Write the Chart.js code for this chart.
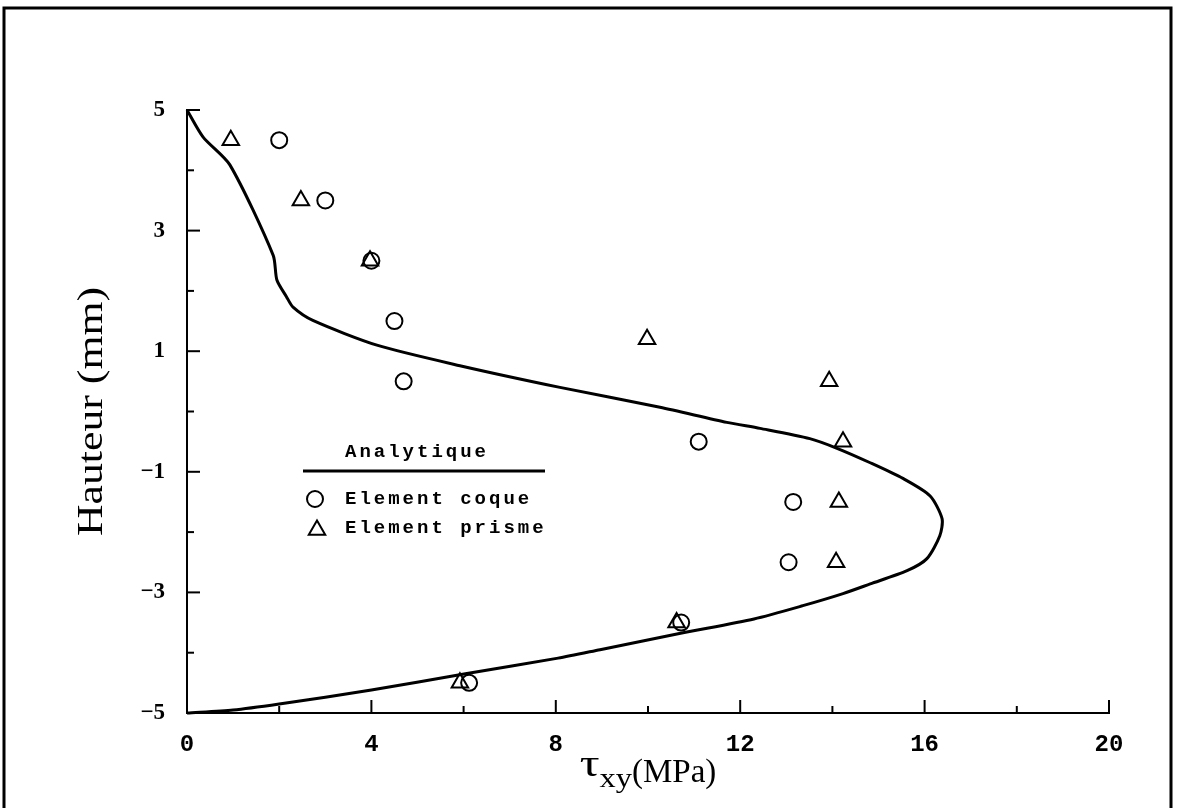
<!DOCTYPE html>
<html>
<head>
<meta charset="utf-8">
<title>Contrainte de cisaillement</title>
<script src="https://cdn.jsdelivr.net/npm/chart.js@4.4.0/dist/chart.umd.min.js"></script>
<style>
  html, body { margin: 0; padding: 0; background: #fff; }
  #wrap { width: 1177px; height: 808px; }
</style>
</head>
<body>
<div id="wrap"><canvas id="shearChart" width="1177" height="808"></canvas></div>
<script>
// analytic shear profile through the thickness
const analyticTau = [0, 0.35, 0.93, 1.87, 1.95, 2.16, 2.3, 2.73, 4.12, 5.92, 8.09, 10.26, 11.71, 12.43, 13.51, 14.1, 14.82, 15.53, 16.12, 16.38, 16.33, 16.05, 15.62, 14.82, 14.23, 13.36, 12.3, 10.76, 8.96, 8.05, 6.04, 4.0, 2.0, 1.0, 0];
const analyticHeight = [5, 4.55, 4.09, 2.59, 2.18, 1.9, 1.73, 1.51, 1.1, 0.76, 0.4, 0.07, -0.18, -0.28, -0.45, -0.61, -0.85, -1.11, -1.4, -1.78, -2.06, -2.44, -2.64, -2.86, -3.02, -3.22, -3.44, -3.67, -3.95, -4.09, -4.35, -4.62, -4.85, -4.95, -5];

// shell elements
const shellTau = [2, 3, 4, 4.5, 4.7, 11.1, 13.15, 13.05, 10.72, 6.12];
const shellHeight = [4.5, 3.5, 2.5, 1.5, 0.5, -0.5, -1.5, -2.5, -3.5, -4.5];

// prism elements
const prismTau = [0.95, 2.47, 3.97, 9.98, 13.93, 14.23, 14.14, 14.08, 10.62, 5.92];
const prismHeight = [4.5, 3.5, 2.5, 1.2, 0.5, -0.5, -1.5, -2.5, -3.5, -4.5];

const xTicks = [0, 4, 8, 12, 16, 20];
const yTicks = [-5, -3, -1, 1, 3, 5];
const xMinorTicks = [2, 6, 10, 14, 18];
const yMinorTicks = [-4, -2, 0, 2, 4];

const toPoints = (xs, ys) => xs.map((v, i) => ({ x: v, y: ys[i] }));

// inward tick marks, axis titles, legend box and page frame
const decorations = {
    id: 'decorations',
    afterDraw(chart) {
        const { ctx, scales: { x, y } } = chart;
        ctx.save();
        ctx.strokeStyle = '#000';
        ctx.fillStyle = '#000';

        // frame
        ctx.lineWidth = 3;
        ctx.beginPath();
        ctx.moveTo(4, 808);
        ctx.lineTo(4, 8);
        ctx.lineTo(1171, 8);
        ctx.lineTo(1171, 808);
        ctx.stroke();

        // ticks
        ctx.lineWidth = 2;
        const tick = (list, len) => {
            list.forEach(v => {
                const px = x.getPixelForValue(v);
                ctx.beginPath();
                ctx.moveTo(px, y.bottom);
                ctx.lineTo(px, y.bottom - len);
                ctx.stroke();
            });
        };
        tick(xTicks, 13);
        tick(xMinorTicks, 7);
        const ytick = (list, len) => {
            list.forEach(v => {
                const py = y.getPixelForValue(v);
                ctx.beginPath();
                ctx.moveTo(x.left, py);
                ctx.lineTo(x.left + len, py);
                ctx.stroke();
            });
        };
        ytick(yTicks, 13);
        ytick(yMinorTicks, 7);

        // y title
        ctx.save();
        ctx.translate(102, (y.top + y.bottom) / 2);
        ctx.rotate(-Math.PI / 2);
        ctx.scale(1.25, 1);
        ctx.font = '35px "Liberation Serif"';
        ctx.textAlign = 'center';
        ctx.textBaseline = 'alphabetic';
        ctx.fillText('Hauteur (mm)', 0, 0);
        ctx.restore();

        // x title: tau with xy subscript
        const parts = [
            { t: '\u03c4', font: '38px "Liberation Serif"', sx: 1.3, dy: 776 },
            { t: 'xy', font: '27px "Liberation Serif"', sx: 1.2, dy: 787 },
            { t: '(MPa)', font: '33px "Liberation Serif"', sx: 1.0, dy: 782 }
        ];
        let total = 0;
        parts.forEach(p => { ctx.font = p.font; p.w = ctx.measureText(p.t).width * p.sx; total += p.w; });
        let cx = (x.left + x.right) / 2 - total / 2;
        ctx.textAlign = 'left';
        parts.forEach(p => {
            ctx.save();
            ctx.font = p.font;
            ctx.translate(cx, p.dy);
            ctx.scale(p.sx, 1);
            ctx.fillText(p.t, 0, 0);
            ctx.restore();
            cx += p.w;
        });

        // legend
        ctx.font = 'bold 19px "Liberation Mono"';
        ctx.letterSpacing = '3px';
        ctx.textBaseline = 'middle';
        ctx.textAlign = 'left';
        ctx.fillText('Analytique', 345, 452);
        ctx.lineWidth = 3;
        ctx.beginPath();
        ctx.moveTo(303, 471);
        ctx.lineTo(545, 471);
        ctx.stroke();
        ctx.fillText('Element coque', 345, 499);
        ctx.fillText('Element prisme', 345, 528);
        ctx.letterSpacing = '0px';
        ctx.lineWidth = 2;
        ctx.fillStyle = 'rgba(0,0,0,0)';
        Chart.helpers.drawPoint(ctx, { pointStyle: 'circle', radius: 8, rotation: 0, borderWidth: 2 }, 315, 499);
        Chart.helpers.drawPoint(ctx, { pointStyle: 'triangle', radius: 9.5, rotation: 0, borderWidth: 2 }, 317, 530);
        ctx.restore();
    }
};

new Chart(document.getElementById('shearChart').getContext('2d'), {
    type: 'scatter',
    data: {
        datasets: [
            {
                label: 'Analytique',
                data: toPoints(analyticTau, analyticHeight),
                showLine: true,
                borderColor: '#000',
                borderWidth: 3,
                pointRadius: 0,
                tension: 0.25,
                fill: false,
                order: 3
            },
            {
                label: 'Element coque',
                data: toPoints(shellTau, shellHeight),
                pointStyle: 'circle',
                pointRadius: 8,
                borderColor: '#000',
                borderWidth: 2,
                backgroundColor: 'rgba(0,0,0,0)',
                order: 2
            },
            {
                label: 'Element prisme',
                data: toPoints(prismTau, prismHeight),
                pointStyle: 'triangle',
                pointRadius: 9.5,
                borderColor: '#000',
                borderWidth: 2,
                backgroundColor: 'rgba(0,0,0,0)',
                order: 1
            }
        ]
    },
    options: {
        responsive: false,
        animation: false,
        clip: false,
        layout: { padding: { top: 110, right: 68, left: 0, bottom: 0 } },
        plugins: { legend: { display: false }, tooltip: { enabled: false } },
        scales: {
            x: {
                type: 'linear',
                min: 0,
                max: 20,
                afterBuildTicks: s => { s.ticks = xTicks.map(v => ({ value: v })); },
                afterFit: s => { s.height = 95; },
                grid: { display: false, drawTicks: false },
                border: { display: true, color: '#000', width: 2 },
                ticks: {
                    color: '#000',
                    padding: 18,
                    maxRotation: 0,
                    autoSkip: false,
                    font: { family: 'Liberation Mono', size: 24, weight: 'bold' }
                }
            },
            y: {
                type: 'linear',
                min: -5,
                max: 5,
                afterBuildTicks: s => { s.ticks = yTicks.map(v => ({ value: v })); },
                afterFit: s => { s.width = 187; },
                grid: { display: false, drawTicks: false },
                border: { display: true, color: '#000', width: 2 },
                ticks: {
                    color: '#000',
                    padding: 22,
                    autoSkip: false,
                    font: { family: 'Liberation Serif', size: 23, weight: 'bold' },
                    callback: v => (v < 0 ? '\u2212' + (-v) : String(v))
                }
            }
        }
    },
    plugins: [decorations]
});
</script>
</body>
</html>
